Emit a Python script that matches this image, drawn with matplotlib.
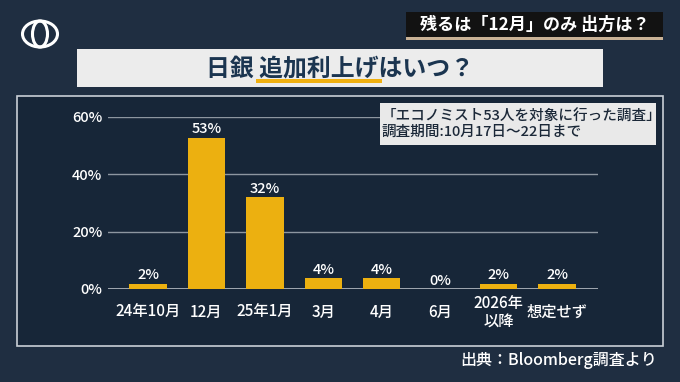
import matplotlib
matplotlib.use("Agg")
import matplotlib.pyplot as plt
from matplotlib.patches import Rectangle, Ellipse

plt.rcParams['font.family'] = ['Noto Sans CJK JP', 'DejaVu Sans']

# ---- data ----
categories = ["24年10月", "12月", "25年1月", "3月", "4月", "6月", "2026年\n以降", "想定せず"]
values = [1.9, 52.8, 32.1, 3.8, 3.8, 0.0, 1.9, 1.9]
value_labels = ["2%", "53%", "32%", "4%", "4%", "0%", "2%", "2%"]
yticks = [0, 20, 40, 60]
ytick_labels = ["0%", "20%", "40%", "60%"]

title = "日銀 追加利上げはいつ？"
top_label = "残るは「12月」のみ 出方は？"
note = "「エコノミスト53人を対象に行った調査」\n調査期間:10月17日～22日まで"
source = "出典：Bloomberg調査より"

W, H = 680, 382
fig = plt.figure(figsize=(W / 100, H / 100), dpi=100)
fig.patch.set_facecolor("#1f2e41")

def fx(x):
    return x / W

def fy(y):
    return 1 - y / H

# background layer (pixel coordinates, y down)
bg = fig.add_axes([0, 0, 1, 1], zorder=0)
bg.set_xlim(0, W)
bg.set_ylim(H, 0)
bg.axis("off")
bg.add_patch(Rectangle((0, 0), W, H, facecolor="#1f2e41", edgecolor="none"))
# panel
bg.add_patch(Rectangle((17, 96), 646, 250, facecolor="#172638", edgecolor="#c9cfd6", lw=1.2))

# chart axes
left, right, top, bottom = 108, 598, 117, 289
ax = fig.add_axes([fx(left), fy(bottom), fx(right - left), (bottom - top) / H], zorder=1)
ax.patch.set_alpha(0)
x = list(range(len(categories)))
bars = ax.bar(x, values, width=0.64, color="#ecb010", zorder=3)
ax.set_xlim(-0.685, 7.70)
ax.set_ylim(0, 60)
for s in ax.spines.values():
    s.set_visible(False)
ax.set_yticks(yticks)
ax.set_yticklabels(ytick_labels, color="white", fontsize=10.5, fontweight="medium")
ax.yaxis.grid(True, color="#8d96a0", lw=1.0, zorder=1)
ax.axhline(0, color="#b4bac1", lw=1.2, zorder=2)
ax.set_xticks(x)
ax.set_xticklabels(categories, color="white", fontsize=11, fontweight="medium",
                   va="center", linespacing=1.1)
ax.tick_params(axis="both", length=0)
ax.tick_params(axis="y", pad=4)
ax.tick_params(axis="x", pad=17)
for xi, v, lab in zip(x, values, value_labels):
    ax.annotate(lab, (xi, v), xytext=(0, 1), textcoords="offset points",
                ha="center", va="bottom", color="white", fontsize=10.5,
                fontweight="medium", clip_on=False)

# overlay layer
ov = fig.add_axes([0, 0, 1, 1], zorder=2)
ov.set_xlim(0, W)
ov.set_ylim(H, 0)
ov.axis("off")
ov.patch.set_alpha(0)

# logo
ov.add_patch(Ellipse((40, 34), 35, 26, fill=False, edgecolor="white", lw=2.2))
ov.add_patch(Ellipse((40, 34), 15, 26, fill=False, edgecolor="white", lw=2.2))

# top-right label
ov.add_patch(Rectangle((406, 12), 257, 25, facecolor="#121212", edgecolor="none"))
ov.add_patch(Rectangle((406, 37), 257, 3, facecolor="#c9b296", edgecolor="none"))
ov.text(535, 24.5, top_label, color="white", fontsize=12.3, fontweight="bold",
        ha="center", va="center")

# title banner
ov.add_patch(Rectangle((77, 49), 526, 38, facecolor="#ececec", edgecolor="none"))
ov.add_patch(Rectangle((256, 79), 126, 4, facecolor="#f0b010", edgecolor="none"))
ov.text(340, 68, title, color="#1b3550", fontsize=17.2, fontweight="bold",
        ha="center", va="center")

# note box
ov.add_patch(Rectangle((380, 103), 276, 42, facecolor="#e9e9e9", edgecolor="none"))
ov.text(382, 124, note, color="#1b2838", fontsize=10.5, fontweight="medium",
        ha="left", va="center", linespacing=1.15)

# source
ov.text(657, 360, source, color="white", fontsize=11.5, fontweight="medium",
        ha="right", va="center")

fig.savefig("out.png", dpi=100, facecolor=fig.get_facecolor())
